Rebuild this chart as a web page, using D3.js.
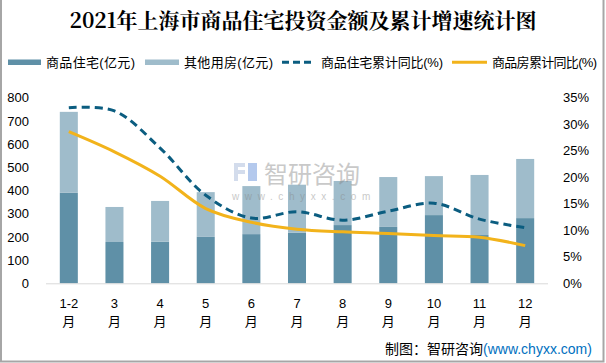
<!DOCTYPE html>
<html><head><meta charset="utf-8">
<script src="https://cdn.jsdelivr.net/npm/d3@7"></script>
<style>
html,body{margin:0;padding:0;background:#fff;}
svg{display:block;font-family:"Liberation Sans","Noto Sans CJK SC",sans-serif;}
</style></head>
<body>
<svg id="c" width="606" height="363"></svg>
<script>
const categories = ["1-2","3","4","5","6","7","8","9","10","11","12"];
const residential = [390,178,179,200,212,218,251,243,294,208,281];
const otherHousing = [349,151,176,193,207,207,190,215,168,259,255];
const resGrowth = [33.1,32.5,25.5,16.6,12.3,13.5,11.9,13.6,15.1,12.1,10.5];
const allGrowth = [28.6,24.8,20.2,14.1,11.5,10.2,9.7,9.4,9.0,8.7,7.1];
const leftTicks = [0,100,200,300,400,500,600,700,800];
const rightTicks = [0,5,10,15,20,25,30,35];
const seriesNames = ["商品住宅(亿元)","其他用房(亿元)","商品住宅累计同比(%)","商品房累计同比(%)"];
const colors = {res:"#5f90a7", other:"#9fbccb", resLine:"#0b5d80", allLine:"#f2b31b"};

const svg = d3.select("#c");
const x = d3.scaleBand().domain(categories).range([46,548]).paddingInner(0.605).paddingOuter(0.3025);
const yL = d3.scaleLinear().domain([0,800]).range([283.3,97.7]);
const yR = d3.scaleLinear().domain([0,35]).range([283.3,97.7]);

// border
svg.append("rect").attr("x",1).attr("y",-5).attr("width",602.5).attr("height",366.5)
  .attr("fill","none").attr("stroke","#a6a6a6").attr("stroke-width",2);

// title
svg.append("text").attr("x",303).attr("y",28).attr("text-anchor","middle")
  .attr("font-family","'Noto Serif CJK SC','Noto Sans CJK SC',serif").attr("font-weight","bold")
  .attr("font-size",21).attr("fill","#000").text("2021年上海市商品住宅投资金额及累计增速统计图");

// legend
const lg = svg.append("g").attr("font-size",13).attr("fill","#000");
lg.append("rect").attr("x",8).attr("y",59.5).attr("width",33).attr("height",5.5).attr("fill",colors.res);
lg.append("text").attr("x",46).attr("y",67).attr("textLength",89).attr("lengthAdjust","spacing").text(seriesNames[0]);
lg.append("rect").attr("x",145).attr("y",59.5).attr("width",34).attr("height",5.5).attr("fill",colors.other);
lg.append("text").attr("x",184).attr("y",67).attr("textLength",89).attr("lengthAdjust","spacing").text(seriesNames[1]);
lg.append("line").attr("x1",282).attr("x2",314).attr("y1",62.3).attr("y2",62.3)
  .attr("stroke",colors.resLine).attr("stroke-width",3).attr("stroke-dasharray","7,4");
lg.append("text").attr("x",321).attr("y",67).attr("textLength",122).attr("lengthAdjust","spacing").text(seriesNames[2]);
lg.append("line").attr("x1",452).attr("x2",487).attr("y1",62.3).attr("y2",62.3)
  .attr("stroke",colors.allLine).attr("stroke-width",3);
lg.append("text").attr("x",492).attr("y",67).attr("textLength",105).attr("lengthAdjust","spacing").text(seriesNames[3]);

// bars
const bars = svg.append("g");
bars.selectAll("rect.res").data(categories).join("rect")
  .attr("x",d=>x(d)).attr("width",x.bandwidth())
  .attr("y",(d,i)=>yL(residential[i])).attr("height",(d,i)=>yL(0)-yL(residential[i]))
  .attr("fill",colors.res);
bars.selectAll("rect.oth").data(categories).join("rect")
  .attr("x",d=>x(d)).attr("width",x.bandwidth())
  .attr("y",(d,i)=>yL(residential[i]+otherHousing[i])).attr("height",(d,i)=>yL(0)-yL(otherHousing[i]))
  .attr("fill",colors.other);

// axis baseline
svg.append("line").attr("x1",46).attr("x2",548).attr("y1",283.8).attr("y2",283.8)
  .attr("stroke","#d9d9d9").attr("stroke-width",1);

// left axis labels
const axL = d3.axisLeft(yL).tickValues(leftTicks).tickSize(0).tickPadding(0);
const gL = svg.append("g").attr("transform","translate(29,0)").call(axL);
gL.select(".domain").remove();
gL.selectAll("text").attr("font-size",13).attr("font-family","'Liberation Sans',sans-serif").attr("fill","#000");

const axR = d3.axisRight(yR).tickValues(rightTicks).tickFormat(d=>d+"%").tickSize(0).tickPadding(0);
const gR = svg.append("g").attr("transform","translate(563,0)").call(axR);
gR.select(".domain").remove();
gR.selectAll("text").attr("font-size",13).attr("font-family","'Liberation Sans',sans-serif").attr("fill","#000");

// x labels
const xl = svg.append("g").attr("font-size",13).attr("text-anchor","middle").attr("fill","#000");
categories.forEach(c=>{
  const cx = x(c)+x.bandwidth()/2;
  const t = xl.append("text").attr("x",cx).attr("y",308);
  t.append("tspan").attr("x",cx).attr("y",308).text(c);
  t.append("tspan").attr("x",cx).attr("y",326).text("月");
});

// lines
const cxOf = (d,i)=>x(categories[i])+x.bandwidth()/2;
const lineRes = d3.line().x(cxOf).y(d=>yR(d)).curve(d3.curveCatmullRom.alpha(0.5));
svg.append("path").attr("d",lineRes(resGrowth)).attr("fill","none")
  .attr("stroke",colors.resLine).attr("stroke-width",3).attr("stroke-dasharray","8,5");
svg.append("path").attr("d",lineRes(allGrowth)).attr("fill","none")
  .attr("stroke",colors.allLine).attr("stroke-width",3);

// watermark
const wm = svg.append("g").attr("opacity",0.45);
wm.append("rect").attr("x",234).attr("y",163).attr("width",11).attr("height",4).attr("fill","#9fb3d6");
wm.append("rect").attr("x",234).attr("y",170).attr("width",11).attr("height",4).attr("fill","#9fb3d6");
wm.append("rect").attr("x",234).attr("y",163).attr("width",4).attr("height",18).attr("fill","#9fb3d6");
wm.append("rect").attr("x",248).attr("y",163).attr("width",9).attr("height",18).attr("fill","#5a8ad8");
wm.append("text").attr("x",264).attr("y",183).attr("font-size",24).attr("fill","#888")
  .attr("font-family","'Noto Sans CJK SC',sans-serif").text("智研咨询");
wm.append("text").attr("x",232).attr("y",200).attr("font-size",10).attr("fill","#888")
  .attr("letter-spacing",5.6).text("www.chyxx.com");

// footer
const ft = svg.append("text").attr("x",385).attr("y",354).attr("font-size",14)
  .attr("font-family","'Noto Sans CJK SC',sans-serif");
ft.append("tspan").attr("fill","#000").text("制图：智研咨询");
ft.append("tspan").attr("fill","#0070c0").attr("font-family","'Liberation Sans',sans-serif").text("(www.chyxx.com)");
</script>
</body></html>
